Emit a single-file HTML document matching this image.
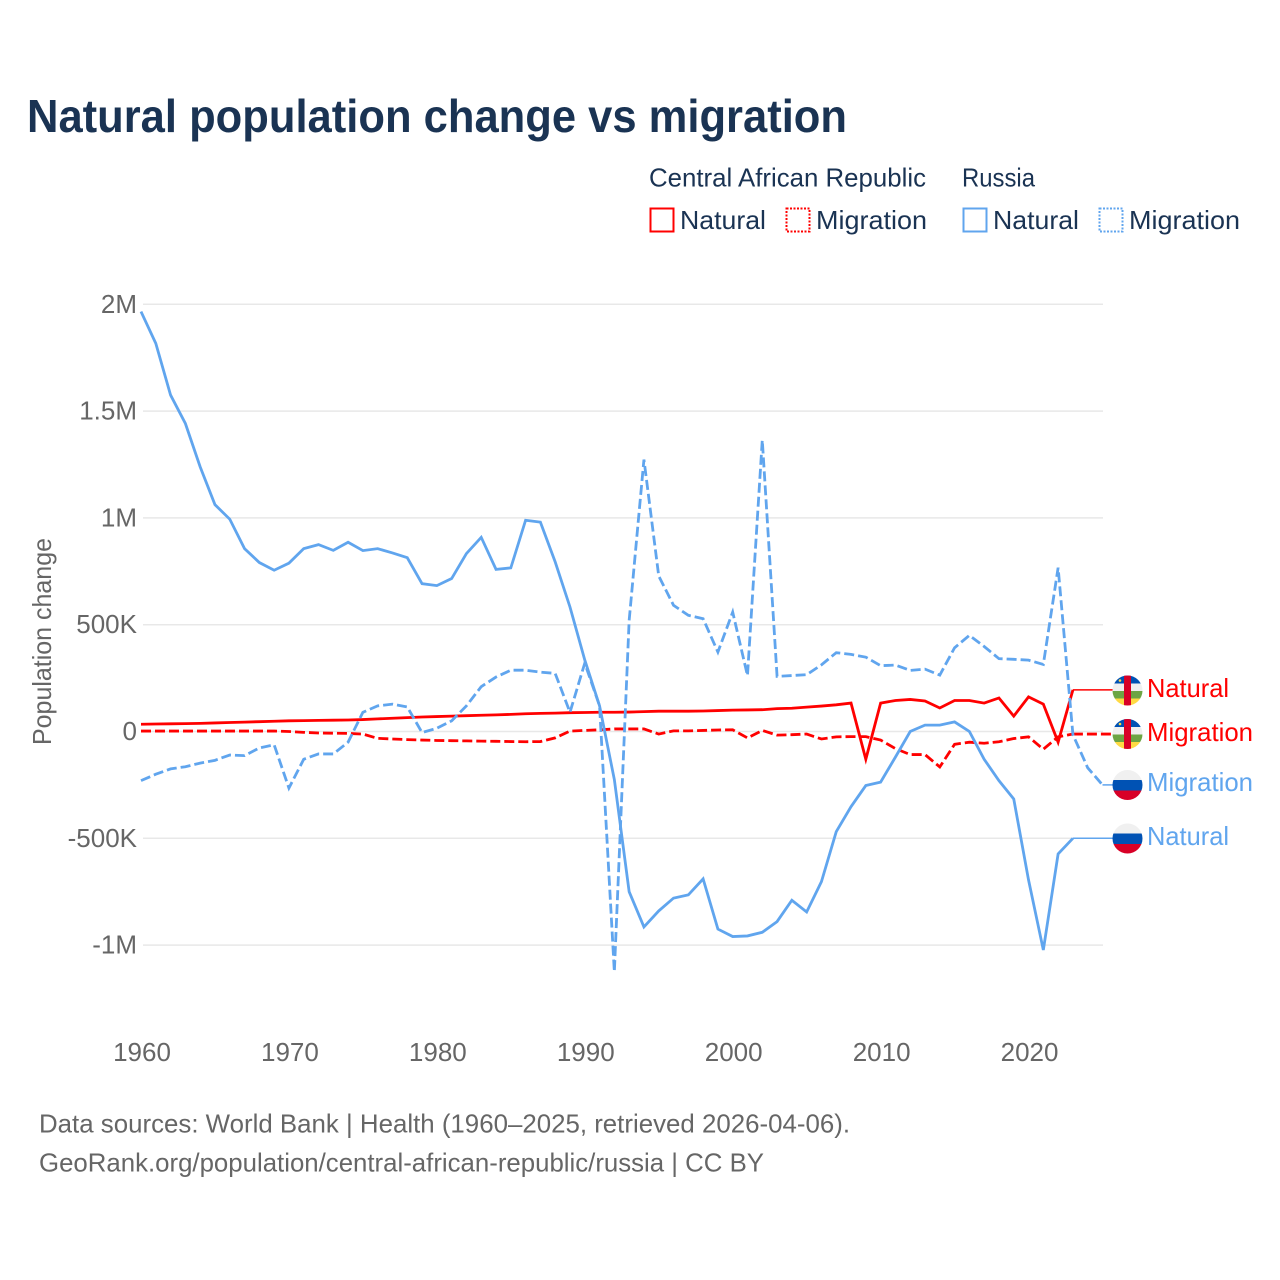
<!DOCTYPE html>
<html lang="en">
<head>
<meta charset="utf-8">
<title>Natural population change vs migration</title>
<style>
html,body{margin:0;padding:0;background:#fff;}
svg{display:block;font-family:"Liberation Sans",sans-serif;}
</style>
</head>
<body>
<svg id="chart" xmlns="http://www.w3.org/2000/svg" width="1280" height="1280" viewBox="0 0 1280 1280">
<defs>
<clipPath id="flag-clip"><circle cx="0" cy="0" r="15"/></clipPath>
<g id="flag-car" clip-path="url(#flag-clip)">
<rect x="-15" y="-15" width="30" height="8" fill="#0052b4"/>
<rect x="-15" y="-7" width="30" height="7.5" fill="#f0f0f0"/>
<rect x="-15" y="0.5" width="30" height="7.5" fill="#6da544"/>
<rect x="-15" y="8" width="30" height="7" fill="#ffda44"/>
<rect x="-3.5" y="-15" width="7" height="30" fill="#d80027"/>
<circle cx="-7.5" cy="-10" r="1.3" fill="#ffda44"/>
</g>
<g id="flag-russia" clip-path="url(#flag-clip)">
<rect x="-15" y="-15" width="30" height="10" fill="#f0f0f0"/>
<rect x="-15" y="-5" width="30" height="10.5" fill="#0052b4"/>
<rect x="-15" y="5.5" width="30" height="9.5" fill="#d80027"/>
</g>
</defs>
<rect x="0" y="0" width="1280" height="1280" fill="#ffffff"/>
<text x="27" y="132" font-size="46" font-weight="700" fill="#1a3353" textLength="820" lengthAdjust="spacingAndGlyphs">Natural population change vs migration</text>

<g font-size="26" fill="#1a3353">
<text x="649" y="186.5" textLength="277" lengthAdjust="spacingAndGlyphs">Central African Republic</text>
<text x="962" y="186.5" textLength="73" lengthAdjust="spacingAndGlyphs">Russia</text>
<rect x="650.5" y="208.5" width="23" height="23" fill="none" stroke="#ff0000" stroke-width="2"/>
<text x="680" y="229" textLength="86" lengthAdjust="spacingAndGlyphs">Natural</text>
<rect x="786.5" y="208.5" width="23" height="23" fill="none" stroke="#ff0000" stroke-width="2" stroke-dasharray="2 1.5"/>
<text x="816" y="229" textLength="111" lengthAdjust="spacingAndGlyphs">Migration</text>
<rect x="963.5" y="208.5" width="23" height="23" fill="none" stroke="#60a5ee" stroke-width="2"/>
<text x="993" y="229" textLength="86" lengthAdjust="spacingAndGlyphs">Natural</text>
<rect x="1099.5" y="208.5" width="23" height="23" fill="none" stroke="#60a5ee" stroke-width="2" stroke-dasharray="2 1.5"/>
<text x="1129" y="229" textLength="111" lengthAdjust="spacingAndGlyphs">Migration</text>
</g>

<g id="grid"></g>
<g id="y-ticks" font-size="26" fill="#666666" text-anchor="end"></g>
<g id="x-ticks" font-size="26" fill="#666666" text-anchor="middle"></g>
<text transform="translate(51,641.5) rotate(-90)" font-size="26" fill="#666666" text-anchor="middle" textLength="207" lengthAdjust="spacingAndGlyphs">Population change</text>
<g id="series" fill="none" stroke-linejoin="miter"></g>

<g font-size="26">
<use href="#flag-car" x="1127.5" y="690.5"/>
<use href="#flag-car" x="1127.5" y="734"/>
<use href="#flag-russia" x="1127.5" y="785"/>
<use href="#flag-russia" x="1127.5" y="838.5"/>
<text x="1147" y="697" fill="#ff0000" textLength="82" lengthAdjust="spacingAndGlyphs">Natural</text>
<text x="1147" y="741" fill="#ff0000" textLength="106" lengthAdjust="spacingAndGlyphs">Migration</text>
<text x="1147" y="791" fill="#60a5ee" textLength="106" lengthAdjust="spacingAndGlyphs">Migration</text>
<text x="1147" y="845" fill="#60a5ee" textLength="82" lengthAdjust="spacingAndGlyphs">Natural</text>
</g>

<g font-size="26" fill="#666666">
<text x="39" y="1132.5" textLength="811" lengthAdjust="spacingAndGlyphs">Data sources: World Bank | Health (1960–2025, retrieved 2026-04-06).</text>
<text x="39" y="1171.5" textLength="725" lengthAdjust="spacingAndGlyphs">GeoRank.org/population/central-african-republic/russia | CC BY</text>
</g>
</svg>

<script>
const startYear = 1960;
const yTickValues = [2000, 1500, 1000, 500, 0, -500, -1000];
const yTickLabels = ["2M", "1.5M", "1M", "500K", "0", "-500K", "-1M"];
const xTickYears = [1960, 1970, 1980, 1990, 2000, 2010, 2020];

// Values in thousands of people per year, starting at 1960
const carNatural = [34,35,36,37,38,40,42,44,46,48,50,51,52,53,54,56,59,62,65,68,70,72,74,76,78,80,83,85,86,88,89,90,90,91,93,95,95,95,96,98,100,101,102,107,109,114,119,125,133,-130,133,145,150,143,110,145,145,133,157,72,162,128,-50,195];
const carMigration = [2,2,2,2,2,2,2,2,2,2,0,-4,-7,-8,-9,-12,-32,-35,-38,-40,-42,-43,-44,-45,-46,-47,-48,-47,-30,2,5,8,12,12,12,-12,3,3,5,7,8,-30,5,-17,-15,-12,-35,-25,-24,-24,-40,-80,-108,-108,-166,-60,-50,-55,-48,-33,-25,-83,-25,-12];
const russiaNatural = [1966,1817,1575,1442,1239,1062,994,856,791,755,788,856,875,848,886,847,856,836,814,692,683,716,833,909,759,766,989,980,794,583,335,120,-225,-750,-915,-840,-780,-765,-690,-925,-960,-957,-940,-890,-790,-845,-703,-469,-352,-253,-237,-120,0,30,30,45,0,-130,-230,-316,-695,-1023,-573,-500];
const russiaMigration = [-230,-200,-175,-165,-148,-135,-110,-113,-77,-62,-265,-130,-105,-105,-50,90,120,128,115,-5,15,50,120,210,255,287,287,278,272,90,320,120,-1125,520,1273,728,591,544,528,372,559,262,1364,258,262,266,312,369,361,348,308,311,286,292,264,392,450,398,341,338,334,314,767,-15,-170,-250];

const NS = "http://www.w3.org/2000/svg";
const blue = "#60a5ee";
const red = "#ff0000";

function xScale(year) {
  return 141 + (year - 1960) * (1102.5 - 141) / 65;
}
function yScale(value) {
  return 731.5 - value * 0.2136;
}
function make(tag, attrs, parent) {
  const el = document.createElementNS(NS, tag);
  for (const k in attrs) el.setAttribute(k, attrs[k]);
  parent.appendChild(el);
  return el;
}

const gridGroup = document.getElementById("grid");
const yTickGroup = document.getElementById("y-ticks");
yTickValues.forEach(function (v, i) {
  const line = make("line", {x1: 143, x2: 1103, y1: yScale(v), y2: yScale(v), stroke: "#e8e8e8", "stroke-width": 1.5}, gridGroup);
  
  
  const label = make("text", {x: 137, y: yScale(v) + 8.5}, yTickGroup);
  label.textContent = yTickLabels[i];
  
  
});

const xTickGroup = document.getElementById("x-ticks");
xTickYears.forEach(function (year) {
  const label = make("text", {x: xScale(year) + 1, y: 1061}, xTickGroup);
  label.textContent = String(year);
  
  
});

const seriesGroup = document.getElementById("series");

function drawSeries(values, color, dash) {
  const pts = values.map(function (v, i) {
    return xScale(startYear + i).toFixed(2) + "," + yScale(v).toFixed(2);
  });
  const attrs = {points: pts.join(" "), stroke: color, "stroke-width": 2.8};
  if (dash) attrs["stroke-dasharray"] = "10 4";
  return make("polyline", attrs, seriesGroup);
}
function drawConnector(values, color, dash) {
  const last = values[values.length - 1];
  const lastYear = startYear + values.length - 1;
  const attrs = {x1: xScale(lastYear), x2: 1113, y1: yScale(last), y2: yScale(last), stroke: color, "stroke-width": dash ? 2.8 : 1.5};
  if (dash) attrs["stroke-dasharray"] = "10 4";
  return make("line", attrs, seriesGroup);
}

const c1 = drawConnector(carNatural, red, false);


const c2 = drawConnector(carMigration, red, true);


const c3 = drawConnector(russiaNatural, blue, false);


const c4 = drawConnector(russiaMigration, blue, false);



const s1 = drawSeries(carNatural, red, false);


const s2 = drawSeries(carMigration, red, true);


const s3 = drawSeries(russiaNatural, blue, false);


const s4 = drawSeries(russiaMigration, blue, true);


</script>
</body>
</html>
